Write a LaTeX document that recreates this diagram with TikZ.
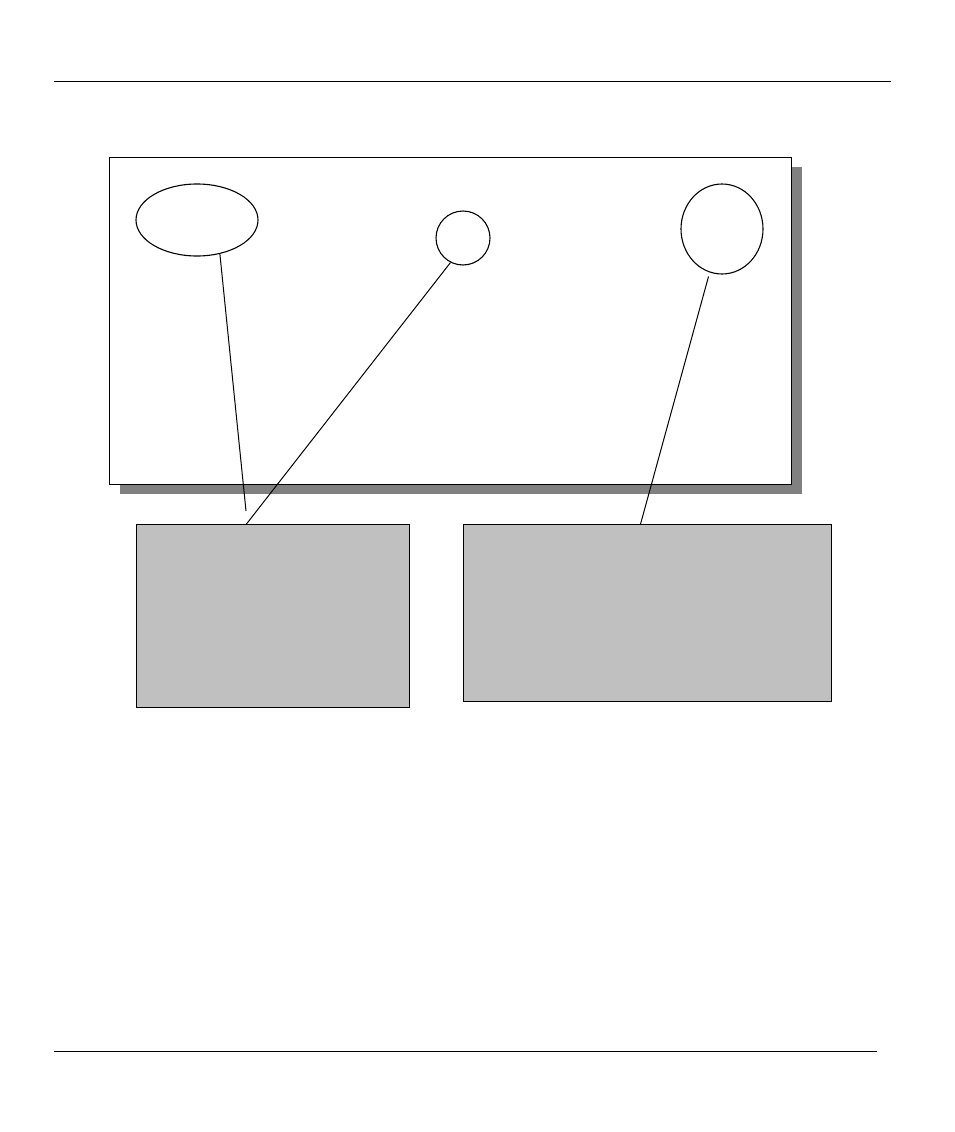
\documentclass[tikz,border=0pt]{standalone}
\usetikzlibrary{shapes.geometric,calc}
\begin{document}
\begin{tikzpicture}[x=1pt,y=-1pt,
  outline/.style={draw=black,line width=1.1pt},
  thin line/.style={draw=black,line width=1pt},
  oval/.style={ellipse,draw=black,line width=1.1pt,inner sep=0pt,fill=white},
  callout/.style={rectangle,draw=black,line width=1.1pt,fill=gray!50!white!100,fill={rgb,255:red,192;green,192;blue,192},inner sep=0pt,anchor=north west}]
\useasboundingbox (0,0) rectangle (954,1132);
% rules
\coordinate (r1a) at (54,81); \coordinate (r1b) at (891,81);
\coordinate (r2a) at (54,1051); \coordinate (r2b) at (877,1051);
\draw[line width=1pt] (r1a) -- (r1b);
\draw[line width=1pt] (r2a) -- (r2b);
% panel with shadow
\node[rectangle,fill={rgb,255:red,128;green,128;blue,128},inner sep=0pt,anchor=north west,minimum width=682pt,minimum height=327pt] (shadow) at (120,167) {};
\node[rectangle,outline,fill=white,inner sep=0pt,anchor=north west,minimum width=682pt,minimum height=327pt] (panel) at (108.5,156.5) {};
% shapes on panel
\node[oval,minimum width=122pt,minimum height=72pt] (e1) at (197,220) {};
\node[oval,minimum width=54pt,minimum height=54pt] (c2) at (463,238) {};
\node[oval,minimum width=82pt,minimum height=90pt] (e3) at (722,229) {};
% callout boxes
\node[callout,minimum width=273pt,minimum height=183pt] (b1) at (136,524) {};
\node[callout,minimum width=368pt,minimum height=177pt] (b2) at (463,524) {};
% connectors
\coordinate (end1) at (246,511);
\coordinate (b1top) at ($(b1.north west)!0.403!(b1.north east)$);
\coordinate (b2top) at ($(b2.north west)!0.481!(b2.north east)$);
\draw[thin line] (e1.-56) -- (end1);
\draw[thin line] (c2.-117) -- (b1top);
\draw[thin line] ($(e3.-106)+(-1,4)$) -- (b2top);
\end{tikzpicture}
\end{document}
